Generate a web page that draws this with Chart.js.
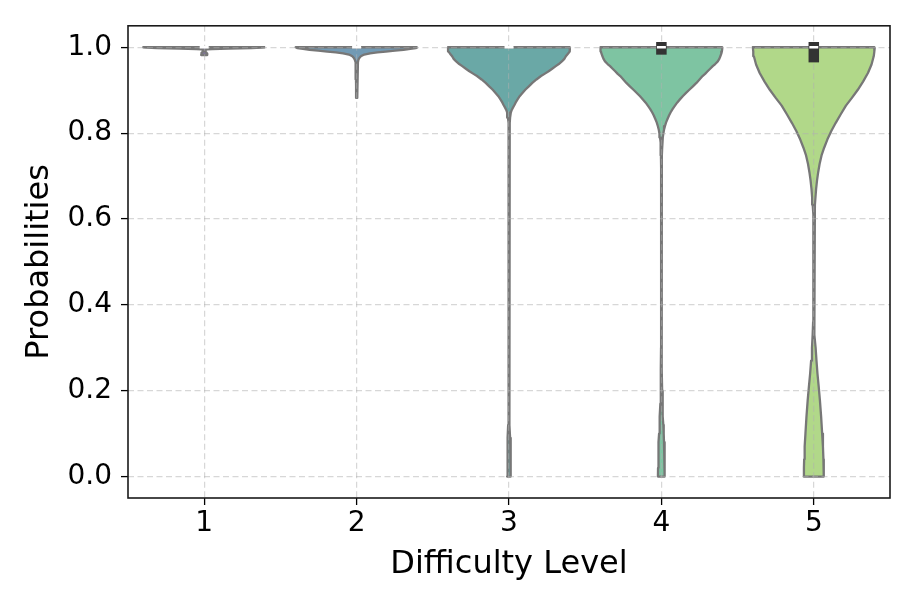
<!DOCTYPE html>
<html><head><meta charset="utf-8">
<script src="https://cdn.jsdelivr.net/npm/chart.js@4"></script>
<style>html,body{margin:0;padding:0;background:#fff;}</style>
</head><body>
<canvas id="c" width="913" height="609"></canvas>
<script>
const categories = ['1', '2', '3', '4', '5'];
const yTicks = [0.0, 0.2, 0.4, 0.6, 0.8, 1.0];

// violin profiles: [probability value, normalized density (1 = widest)]
const violin1 = [[1.0,1.0],[0.999,0.95],[0.998,0.77],[0.997,0.40],[0.996,0.13],[0.995,0.042],[0.993,0.017],[0.991,0.013],[0.989,0.027],[0.987,0.04],[0.985,0.05],[0.982,0.05]];
const violin2 = [[1.0,1.0],[0.998,0.97],[0.996,0.88],[0.994,0.77],[0.992,0.63],[0.990,0.48],[0.988,0.34],[0.986,0.22],[0.983,0.125],[0.979,0.07],[0.975,0.045],[0.971,0.03],[0.965,0.022],[0.958,0.017],[0.95,0.013],[0.94,0.012],[0.925,0.01],[0.91,0.009],[0.895,0.008],[0.882,0.007]];
const violin3 = [[1.0,1.0],[0.995,1.0],[0.99,0.992],[0.985,0.967],[0.979,0.933],[0.973,0.908],[0.967,0.867],[0.961,0.817],[0.956,0.767],[0.95,0.708],[0.944,0.65],[0.938,0.583],[0.933,0.525],[0.925,0.45],[0.917,0.383],[0.909,0.325],[0.901,0.267],[0.893,0.217],[0.886,0.175],[0.878,0.138],[0.871,0.108],[0.865,0.087],[0.86,0.067],[0.854,0.045],[0.848,0.03],[0.836,0.018],[0.824,0.012],[0.81,0.008],[0.79,0.007],[0.75,0.006],[0.7,0.0055],[0.6,0.005],[0.5,0.004],[0.4,0.004],[0.3,0.005],[0.25,0.006],[0.2,0.0075],[0.15,0.011],[0.12,0.014],[0.09,0.018],[0.06,0.023],[0.03,0.028],[0.0,0.032]];
const violin4 = [[1.0,1.0],[0.995,0.997],[0.99,0.992],[0.985,0.983],[0.979,0.967],[0.973,0.95],[0.967,0.925],[0.961,0.883],[0.956,0.842],[0.95,0.8],[0.944,0.758],[0.938,0.717],[0.933,0.675],[0.925,0.625],[0.917,0.575],[0.909,0.517],[0.901,0.458],[0.893,0.4],[0.886,0.35],[0.878,0.3],[0.871,0.258],[0.863,0.217],[0.856,0.183],[0.848,0.15],[0.841,0.125],[0.833,0.1],[0.825,0.077],[0.816,0.058],[0.808,0.043],[0.799,0.032],[0.79,0.023],[0.778,0.015],[0.765,0.01],[0.748,0.0075],[0.72,0.006],[0.68,0.005],[0.6,0.004],[0.5,0.004],[0.4,0.005],[0.3,0.006],[0.25,0.0075],[0.2,0.012],[0.17,0.017],[0.14,0.025],[0.12,0.032],[0.1,0.038],[0.08,0.043],[0.06,0.048],[0.04,0.052],[0.02,0.055],[0.0,0.057]];
const violin5 = [[1.0,1.0],[0.99,0.993],[0.979,0.983],[0.96,0.947],[0.94,0.888],[0.92,0.808],[0.901,0.722],[0.882,0.625],[0.864,0.527],[0.844,0.442],[0.824,0.36],[0.805,0.287],[0.785,0.222],[0.766,0.17],[0.748,0.127],[0.728,0.095],[0.709,0.072],[0.69,0.053],[0.67,0.038],[0.65,0.027],[0.633,0.018],[0.61,0.012],[0.594,0.008],[0.55,0.006],[0.5,0.005],[0.45,0.005],[0.4,0.007],[0.36,0.011],[0.33,0.019],[0.30,0.03],[0.27,0.044],[0.24,0.06],[0.21,0.08],[0.178,0.1],[0.14,0.12],[0.10,0.137],[0.07,0.15],[0.04,0.158],[0.02,0.162],[0.0,0.165]];
const violins = [violin1, violin2, violin3, violin4, violin5];

// inner box statistics
const medians = [1.0, 1.0, 1.0, 1.0, 1.0];
const quartile1 = [1.0, 1.0, 1.0, 0.995, 0.977];
const quartile3 = [1.0, 1.0, 1.0, 1.0, 1.0];
const whiskerLow = [1.0, 1.0, 1.0, 0.995, 0.9735];

const fillColors = ['#81769f', '#729ab4', '#6aa8a6', '#7ec4a2', '#b1d889'];
const MAX_HALF_WIDTH = 0.4;
const EDGE = '#777777';
const FONT = "'DejaVu Sans', sans-serif";

function violinOutline(pos, profile) {
  const right = profile.map(p => ({x: pos + MAX_HALF_WIDTH * p[1], y: p[0]}));
  const left = profile.map(p => ({x: pos - MAX_HALF_WIDTH * p[1], y: p[0]})).reverse();
  return right.concat(left, [right[0]]);
}

const datasets = [];
violins.forEach((prof, i) => {
  datasets.push({
    data: violinOutline(i, prof), showLine: true, fill: 'shape',
    backgroundColor: fillColors[i], borderColor: EDGE, borderWidth: 2.3,
    borderJoinStyle: 'round', pointRadius: 0, tension: 0
  });
});
categories.forEach((c, i) => {
  if (whiskerLow[i] < quartile1[i]) {
    datasets.push({inner: true, data: [{x: i, y: whiskerLow[i]}, {x: i, y: quartile1[i]}], showLine: true, fill: false,
      borderColor: '#333333', borderWidth: 3.5, borderCapStyle: 'square', pointRadius: 0});
  }
  if (quartile1[i] < quartile3[i]) {
    datasets.push({inner: true, data: [{x: i, y: quartile1[i]}, {x: i, y: quartile3[i]}], showLine: true, fill: false,
      borderColor: '#333333', borderWidth: 10.5, borderCapStyle: 'square', pointRadius: 0});
  }
  datasets.push({inner: true, data: [{x: i, y: medians[i]}], showLine: false, pointStyle: 'line',
    pointRadius: 4.5, pointBorderWidth: 2.5, pointBorderColor: '#ffffff', pointBackgroundColor: '#ffffff'});
});

const innerOnTop = {
  id: 'innerOnTop',
  beforeDatasetDraw(chart, args) { if (args.meta._dataset && args.meta._dataset.inner) return false; },
  afterDraw(chart) {
    chart.data.datasets.forEach((ds, i) => { if (ds.inner) chart.getDatasetMeta(i).controller.draw(); });
    const a = chart.chartArea, ctx = chart.ctx;
    ctx.save(); ctx.strokeStyle = '#1a1a1a'; ctx.lineWidth = 1.6;
    ctx.strokeRect(a.left, a.top, a.right - a.left, a.bottom - a.top);
    ctx.restore();
  }
};

const gridCommon = {color: 'rgba(176,176,176,0.5)', lineWidth: 1.2, z: 1, tickColor: '#000', tickLength: 7, tickWidth: 1.3};

new Chart(document.getElementById('c'), {
  type: 'scatter',
  data: {datasets},
  options: {
    responsive: false, animation: false, devicePixelRatio: 1,
    layout: {padding: {top: 22, right: 23, left: 0, bottom: 0}},
    plugins: {legend: {display: false}, tooltip: {enabled: false}},
    scales: {
      x: {
        type: 'linear', min: -0.5, max: 4.5,
        afterFit(s) { s.height = 111; },
        afterBuildTicks(s) { s.ticks = categories.map((c, i) => ({value: i})); },
        grid: gridCommon, border: {display: false, dash: [6, 3.5]},
        ticks: {color: '#000', padding: 2, font: {family: FONT, size: 28}, callback: v => categories[Math.round(v)]},
        title: {display: true, text: 'Difficulty Level', color: '#000', font: {family: FONT, size: 32}, padding: {bottom: 25}}
      },
      y: {
        type: 'linear', min: -0.05, max: 1.05,
        afterFit(s) { s.width = 128; },
        afterBuildTicks(s) { s.ticks = yTicks.map(v => ({value: v})); },
        grid: gridCommon, border: {display: false, dash: [6, 3.5]},
        ticks: {color: '#000', padding: 9, font: {family: FONT, size: 28}, callback: v => v.toFixed(1)},
        title: {display: true, text: 'Probabilities', color: '#000', font: {family: FONT, size: 32}, padding: {top: 20}}
      }
    }
  },
  plugins: [innerOnTop]
});
</script>
</body></html>
